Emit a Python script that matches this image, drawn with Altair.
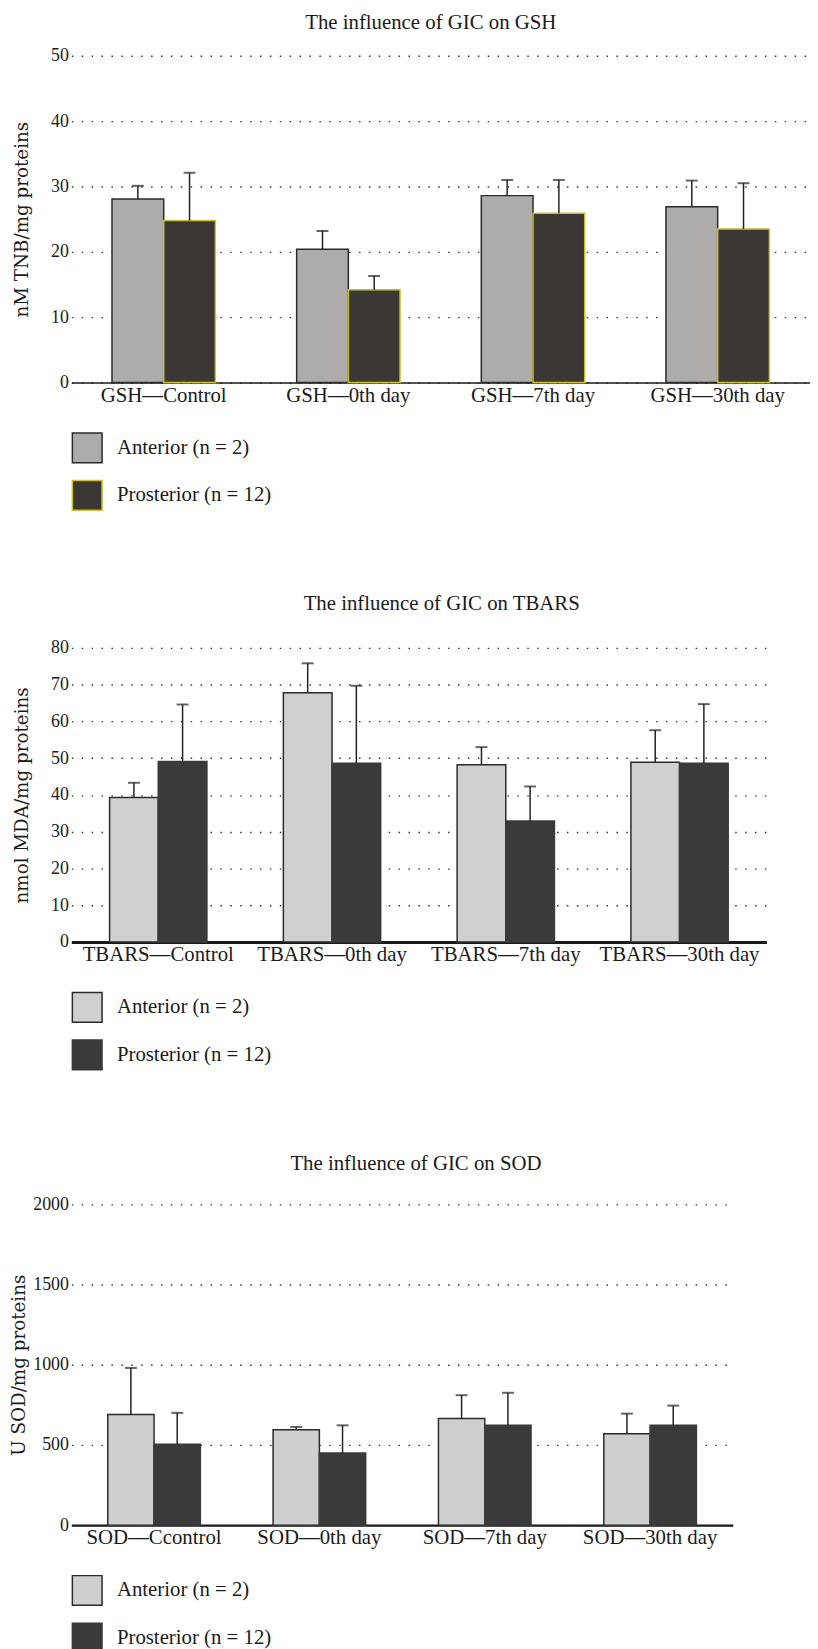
import altair as alt
import pandas as pd

series = ["Anterior (n = 2)", "Prosterior (n = 12)"]

gsh_cats = ["GSH—Control", "GSH—0th day", "GSH—7th day", "GSH—30th day"]
gsh_ant = [28.1, 20.4, 28.6, 26.9]
gsh_ant_up = [30.1, 23.2, 31.0, 30.9]
gsh_post = [24.8, 14.2, 25.9, 23.5]
gsh_post_up = [32.1, 16.3, 31.0, 30.5]

tb_cats = ["TBARS—Control", "TBARS—0th day", "TBARS—7th day", "TBARS—30th day"]
tb_ant = [39.3, 67.8, 48.2, 48.9]
tb_ant_up = [43.3, 75.8, 53.0, 57.6]
tb_post = [49.1, 48.6, 32.9, 48.6]
tb_post_up = [64.6, 69.7, 42.3, 64.7]

sod_cats = ["SOD—Ccontrol", "SOD—0th day", "SOD—7th day", "SOD—30th day"]
sod_ant = [690, 595, 665, 570]
sod_ant_up = [980, 612, 810, 695]
sod_post = [505, 450, 622, 622]
sod_post_up = [700, 622, 825, 745]

SERIF = "Liberation Serif"


def panel(title, cats, ant, ant_up, post, post_up, ymax, ystep, ytitle,
          width, height, fills, strokes, domain_w, title_dx, title_off, ytitle_pad):
    rows = []
    for c, v, u in zip(cats, ant, ant_up):
        rows.append({"cat": c, "series": series[0], "value": v, "upper": u})
    for c, v, u in zip(cats, post, post_up):
        rows.append({"cat": c, "series": series[1], "value": v, "upper": u})
    df = pd.DataFrame(rows)

    x = alt.X("cat:N", sort=cats, title=None,
              scale=alt.Scale(paddingInner=0.44, paddingOuter=0.22),
              axis=alt.Axis(labelAngle=0, labelFont=SERIF, labelFontSize=21,
                            labelColor="#1a1a1a", domainColor="#1a1a1a",
                            domainWidth=domain_w, ticks=False, labelPadding=2))
    xo = alt.XOffset("series:N", sort=series,
                     scale=alt.Scale(paddingInner=0, paddingOuter=0))
    yscale = alt.Scale(domain=[0, ymax], nice=False, zero=True)
    yaxis = alt.Axis(values=list(range(0, ymax + 1, ystep)), grid=True,
                     format="d", labelOverlap=False, labelBound=False,
                     gridDash=[1.5, 8.5], gridColor="#333", gridWidth=1.4,
                     domain=False, ticks=False, labelPadding=3,
                     labelFont=SERIF, labelFontSize=18, labelColor="#1a1a1a",
                     titleFont="DejaVu Serif", titleFontSize=18.5,
                     titleFontWeight="normal", titleColor="#1a1a1a",
                     titlePadding=ytitle_pad)
    leg = alt.Legend(title=None, orient="none", legendX=0, legendY=height + 50,
                     direction="vertical", symbolType="square", symbolSize=900,
                     symbolStrokeWidth=1.5, labelFont=SERIF, labelFontSize=21,
                     labelColor="#1a1a1a", rowPadding=12, labelOffset=14,
                     padding=0)
    fill = alt.Fill("series:N", scale=alt.Scale(domain=series, range=fills), legend=leg)
    stroke = alt.Stroke("series:N", scale=alt.Scale(domain=series, range=strokes), legend=leg)

    bars = alt.Chart(df).mark_bar(strokeWidth=1.5, fillOpacity=1).encode(
        x=x, xOffset=xo,
        y=alt.Y("value:Q", title=ytitle, scale=yscale, axis=yaxis),
        fill=fill, stroke=stroke)
    rule = alt.Chart(df).mark_rule(color="#222", strokeWidth=1.5).encode(
        x=x, xOffset=xo,
        y=alt.Y("value:Q", title=ytitle, scale=yscale, axis=yaxis),
        y2="upper:Q")
    cap = alt.Chart(df).mark_tick(color="#222", thickness=2, size=12).encode(
        x=x, xOffset=xo,
        y=alt.Y("upper:Q", title=ytitle, scale=yscale, axis=yaxis))
    return alt.layer(bars, rule, cap).properties(
        width=width, height=height,
        title=alt.TitleParams(title, font=SERIF, fontSize=21, fontWeight="normal",
                              color="#1a1a1a", anchor="middle", frame="group",
                              offset=title_off, dx=title_dx))


c1 = panel("The influence of GIC on GSH", gsh_cats, gsh_ant, gsh_ant_up, gsh_post, gsh_post_up,
           50, 10, "nM TNB/mg proteins", 746, 330,
           ["#adacaa", "#3b3735"], ["#2a2a2a", "#c9c22e"], 1.5, -10, 14, 19)
c2 = panel("The influence of GIC on TBARS", tb_cats, tb_ant, tb_ant_up, tb_post, tb_post_up,
           80, 10, "nmol MDA/mg proteins", 702, 297,
           ["#d0d0ce", "#3a393b"], ["#2a2a2a", "#3a393b"], 3, 23, 25, 19)
c3 = panel("The influence of GIC on SOD", sod_cats, sod_ant, sod_ant_up, sod_post, sod_post_up,
           2000, 500, "U SOD/mg proteins", 668, 324,
           ["#cfcfcd", "#3a393b"], ["#2a2a2a", "#3a393b"], 2.5, 14, 22, 4)

chart = alt.vconcat(c1, c2, c3, spacing=81).resolve_scale(
    x="independent", y="independent", xOffset="independent",
    fill="independent", stroke="independent"
).properties(
    padding={"left": 2, "top": -4, "right": 0, "bottom": 0},
    background="white"
).configure_view(stroke="transparent", strokeWidth=0)

chart.save("out.html", embed_options={"renderer": "svg", "actions": False})
